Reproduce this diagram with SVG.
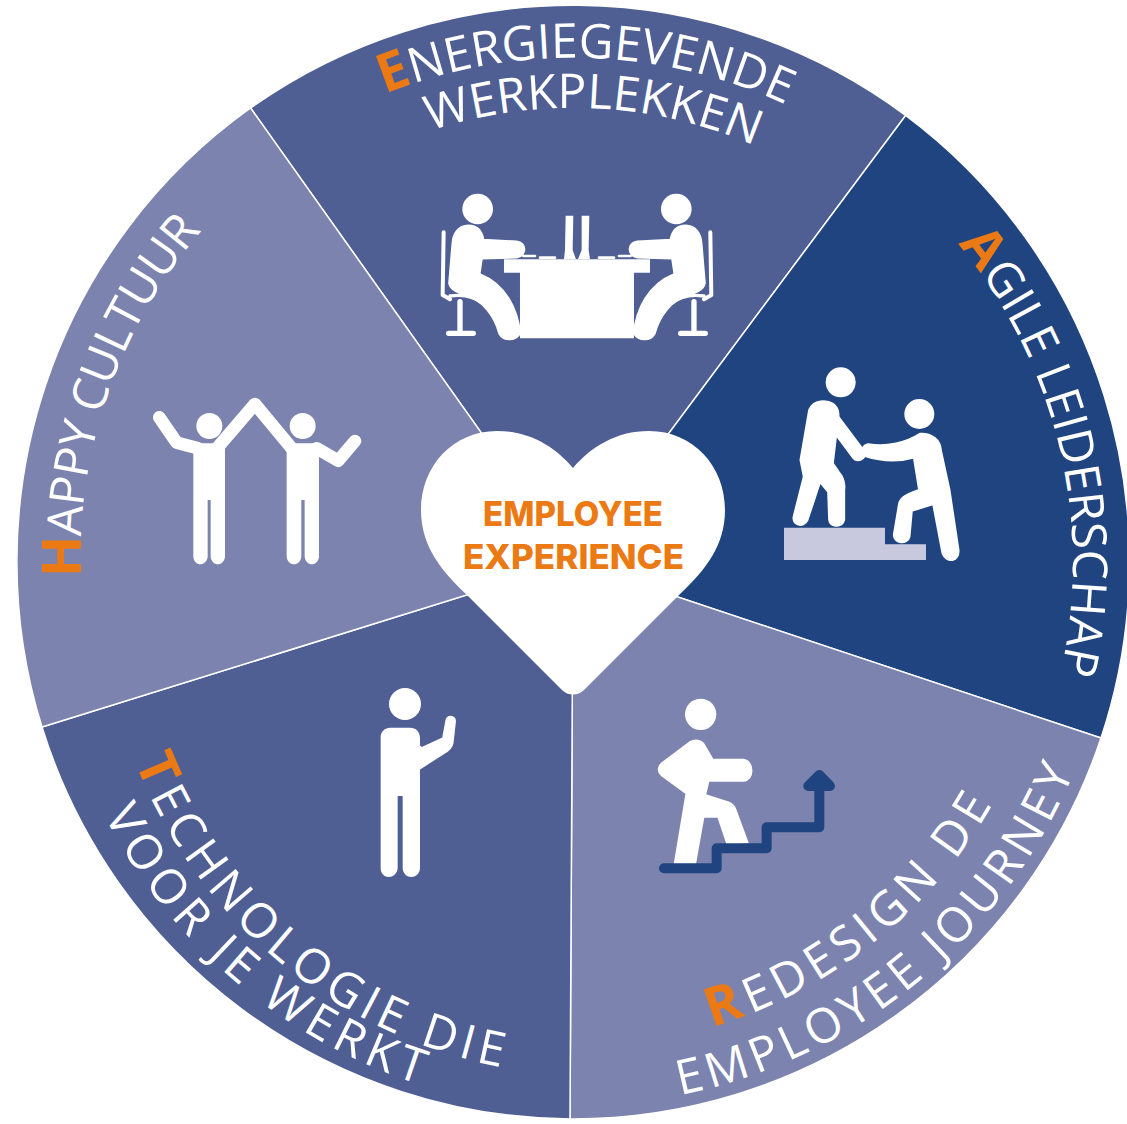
<svg xmlns="http://www.w3.org/2000/svg" xmlns:xlink="http://www.w3.org/1999/xlink" width="1127" height="1124" viewBox="0 0 1127 1124">
<style>
.sec{stroke:#fff;stroke-width:1.5}
.a{fill:#4F5F94}.b{fill:#1F4480}.c{fill:#7C83AE}
.t{font-family:"Open Sans","Noto Sans",sans-serif;font-size:48px;fill:#fff}
.o{font-weight:700;font-size:54px;fill:#EC7A14}
.h{font-family:Inter,"Open Sans",sans-serif;font-weight:800;font-size:34px;fill:#EC7A14;text-anchor:middle}
.w{fill:#fff}
.f{fill:#fff;stroke:#fff;stroke-width:7;stroke-linejoin:round}
.s{fill:none;stroke:#fff;stroke-linecap:round;stroke-linejoin:round}
</style>
<defs>
<path id="p1" d="M385 94A505 505 0 0 1 900 178"/>
<path id="p2" d="M430 131A455 455 0 0 1 850 202"/>
<path id="p3" d="M958 244A500 500 0 0 1 1013 800"/>
<path id="p4" d="M712 1027A484 484 0 0 0 1043 678"/>
<path id="p5" d="M680 1095A543 543 0 0 0 1113 620"/>
<path id="p6" d="M135 762A495 495 0 0 0 560 1075"/>
<path id="p7" d="M104 815A540 540 0 0 0 560 1110"/>
<path id="p8" d="M81 577A500 500 0 0 1 270 165"/>
<g id="seated">
<circle cx="233" cy="117" r="46" class="w"/>
<path class="f" d="M205 167C175 168 160 190 158 220L148 340C152 360 175 368 200 375C250 392 285 440 298 490C312 515 345 512 360 490C352 420 320 345 238 312L245 265L350 262C380 258 380 218 350 215L250 210C245 180 230 167 205 167Z"/>
<path class="s" stroke-width="12" d="M131 187L128 375L150 388"/>
<path class="s" stroke-width="10" d="M150 378C190 372 225 382 247 400"/>
<path class="s" stroke-width="16" d="M180 395V488M146 490H220"/>
<path class="s" stroke-width="8" d="M370 258L405 258M420 263L465 263"/>
</g>
</defs>
<g id="wheel">
<path id="sector-energie" class="sec a" d="M573 562L250.6 108A557 557 0 0 1 905.6 115.5Z"/>
<path id="sector-agile" class="sec b" d="M573 562L905.6 115.5A557 557 0 0 1 1101 738Z"/>
<path id="sector-redesign" class="sec c" d="M573 562L1101 738A557 557 0 0 1 570 1119Z"/>
<path id="sector-tech" class="sec a" d="M573 562L570 1119A557 557 0 0 1 42 727Z"/>
<path id="sector-happy" class="sec c" d="M573 562L42 727A557 557 0 0 1 250.6 108Z"/>
</g>
<g id="connectors"/>
<g id="labels">
<text class="t" letter-spacing="0"><textPath href="#p1"><tspan class="o">E</tspan>NERGIEGEVENDE</textPath></text>
<text class="t" letter-spacing="0"><textPath href="#p2">WERKPLEKKEN</textPath></text>
<text class="t" letter-spacing="0"><textPath href="#p3"><tspan class="o">A</tspan>GILE LEIDERSCHAP</textPath></text>
<text class="t" letter-spacing="5.8"><textPath href="#p4"><tspan class="o">R</tspan>EDESIGN DE</textPath></text>
<text class="t" letter-spacing="4.8"><textPath href="#p5">EMPLOYEE JOURNEY</textPath></text>
<text class="t" letter-spacing="5.4"><textPath href="#p6"><tspan class="o">T</tspan>ECHNOLOGIE DIE</textPath></text>
<text class="t" letter-spacing="6"><textPath href="#p7">VOOR JE WERKT</textPath></text>
<text class="t" letter-spacing="-0.8"><textPath href="#p8"><tspan class="o">H</tspan>APPY CULTUUR</textPath></text>
</g>
<g id="icon-desk" transform="translate(400 170) scale(.3333)">
<use href="#seated"/>
<use href="#seated" transform="matrix(-1 0 0 1 1062 0)"/>
<path class="w" d="M312 268H750V308H702V505H360V308H312Z"/>
<path class="w" d="M497 137H520L518 240L528 268H492L495 240ZM545 137H568L566 240L570 268H534L545 240Z"/>
</g>
<g id="icon-agile" transform="translate(770 350) scale(.3333)">
<path d="M42 533H345V583H468V630H42Z" fill="#C8C9DF"/>
<circle cx="212" cy="97" r="45" class="w"/>
<circle cx="448" cy="192" r="45" class="w"/>
<path class="f" d="M150 155C180 150 205 165 205 195L188 340L205 365C218 380 225 400 222 420L222 510C215 535 180 530 178 510L175 425L150 395L112 510C100 535 65 525 72 498L102 380L92 330L118 180C125 165 135 157 150 155Z"/>
<path class="s" stroke-width="44" d="M185 205L265 312"/>
<path class="f" d="M450 252C485 250 510 270 512 300L538 420L565 600C568 635 530 640 518 610L490 462L425 482L418 560C412 585 372 580 372 555L388 460C395 440 410 435 448 420L432 322C380 337 330 332 285 318C272 300 280 285 295 283C350 293 410 278 450 252Z"/>
</g>
<g id="icon-redesign" transform="translate(640 680) scale(.3333)">
<circle cx="182" cy="103" r="47" class="w"/>
<path class="f" d="M150 187C165 178 185 182 192 195L218 240H310C342 243 342 300 310 302H205L195 345L265 368C278 372 285 385 288 395L322 487L262 490L235 410L190 410L165 550H105L140 340L65 285C52 272 55 258 70 247Z"/>
<path d="M72 565H230V505H380V442H538V300" fill="none" stroke="#1F4480" stroke-width="30" stroke-linecap="round" stroke-linejoin="round"/>
<path d="M505 318L538 285L570 318Z" fill="#1F4480" stroke="#1F4480" stroke-width="30" stroke-linejoin="round"/>
</g>
<g id="icon-tech" transform="translate(360 680) scale(.3333)">
<circle cx="135" cy="72" r="48" class="w"/>
<path class="w" d="M90 143H150C168 143 180 155 180 175V565C178 600 130 600 128 565V348H113V565C110 600 62 600 62 565V170C62 155 75 143 90 143Z"/>
<path class="f" d="M150 175L185 205L250 175L260 120C266 105 287 110 284 128L277 190C274 205 264 212 252 218L175 268C165 272 155 268 148 258L115 210Z"/>
</g>
<g id="icon-happy" transform="translate(140 380) scale(.3333)">
<circle cx="208" cy="138" r="39" class="w"/>
<circle cx="488" cy="138" r="39" class="w"/>
<path class="w" d="M160 190H255V530C252 560 215 560 212 530V360H203V530C200 560 162 560 160 530ZM440 190H537V530C534 560 497 560 494 530V360H484V530C481 560 443 560 440 530Z"/>
<path class="s" stroke-width="38" d="M58 112L110 188L175 205M235 200L345 72L455 205M530 205L595 242L645 183"/>
</g>
<g id="heart">
<path fill="#fff" d="M573 468C555 447 530 431 497 431C453 431 421 466 421 510C421 545 440 570 467 595L562 690C568 696 578 696 584 690L679 595C706 570 725 545 725 510C725 466 693 431 649 431C616 431 591 447 573 468Z"/>
<text class="h" x="573" y="526" textLength="180" lengthAdjust="spacingAndGlyphs">EMPLOYEE</text>
<text class="h" x="573.5" y="569" textLength="221" lengthAdjust="spacingAndGlyphs">EXPERIENCE</text>
</g>
</svg>
